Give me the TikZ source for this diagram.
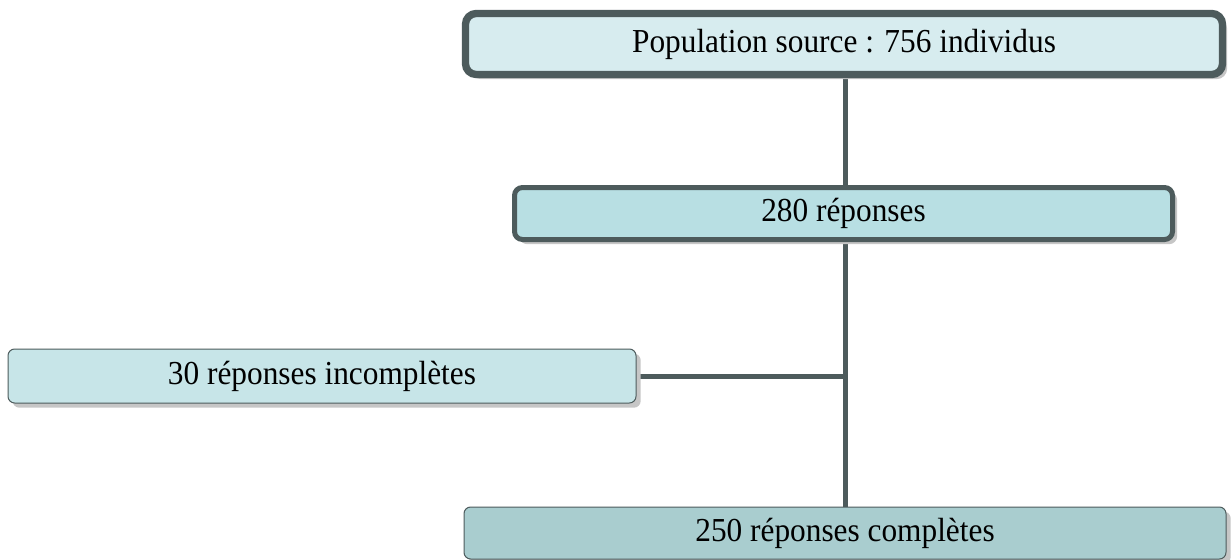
\documentclass[tikz,border=0pt]{standalone}
\usepackage{fontspec}
\setmainfont{Liberation Serif}
\usetikzlibrary{shadows,backgrounds}
\definecolor{bordc}{HTML}{4D5B5C}
\definecolor{shadc}{HTML}{C6C6C6}
\definecolor{fillA}{HTML}{D7ECEF}
\definecolor{fillB}{HTML}{B8DFE3}
\definecolor{fillC}{HTML}{C7E5E8}
\definecolor{fillD}{HTML}{A9CDCF}
\newcommand{\tallt}[1]{\scalebox{1}[1.07]{#1}}
\tikzset{
  box/.style={rectangle, draw=bordc, inner sep=0pt, align=center,
    font=\fontsize{23.5pt}{28pt}\selectfont,
    general shadow={fill=shadc, shadow xshift=3.5pt, shadow yshift=-3.5pt}},
  link/.style={draw=bordc, line width=3.75pt}
}
\begin{document}
\begin{tikzpicture}[x=0.75pt,y=-0.75pt]
\useasboundingbox (0,0) rectangle (1231,560);
\node[box, fill=fillA, line width=5.5pt, rounded corners=8pt,
  minimum width=567.75pt, minimum height=45.75pt] (src) at (844,44)
  {\raisebox{3pt}{\tallt{Population source : 756 individus}}};
\node[box, fill=fillB, line width=3.75pt, rounded corners=6pt,
  minimum width=493.5pt, minimum height=39pt] (rep) at (843.5,213.5)
  {\tallt{280 réponses}};
\node[box, fill=fillC, line width=0.75pt, rounded corners=5pt,
  minimum width=471pt, minimum height=40.5pt] (inc) at (322,376)
  {\raisebox{2pt}{\tallt{30 réponses incomplètes}}};
\node[box, fill=fillD, line width=0.75pt, rounded corners=5pt,
  minimum width=571.5pt, minimum height=39pt] (comp) at (845,533)
  {\raisebox{2pt}{\tallt{250 réponses complètes}}};
\coordinate (j) at (845,376);
\begin{scope}[on background layer]
\draw[link] (src.south -| j) -- (comp.north -| j);
\draw[link] (inc.east) -- (j);
\end{scope}
\end{tikzpicture}
\end{document}
